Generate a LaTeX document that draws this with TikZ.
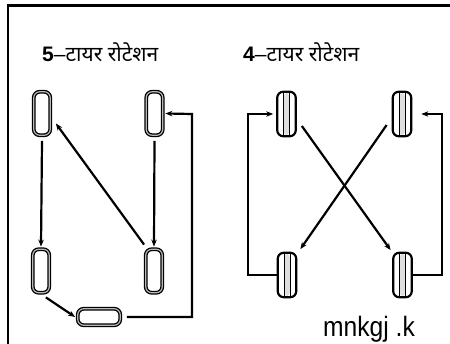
\documentclass[tikz,border=0pt]{standalone}
\usepackage{fontspec}
\setmainfont{Liberation Sans}
\newfontfamily\hindi[Script=Devanagari]{Noto Sans}
\usetikzlibrary{arrows.meta}

\begin{document}
\begin{tikzpicture}[x=1pt, y=-1pt, >={Stealth[length=7pt, width=5.5pt]}]
    % --- Définition des styles ---
    \tikzset{
        cadre/.style={line width=2.2pt},
        titre/.style={anchor=base west, inner sep=0pt, font=\fontsize{21}{24}\selectfont},
        pneu/.style={draw, rounded corners=6pt, minimum width=16.5pt, minimum height=43.5pt,
            inner sep=0pt, line width=1.3pt, double=gray!55, double distance=1.2pt},
        pneu_h/.style={pneu, minimum width=42.5pt, minimum height=16.5pt},
        pneu_r/.style={draw, rounded corners=6pt, minimum width=18.5pt, minimum height=44.5pt,
            inner sep=0pt, line width=2.2pt,
            path picture={
                \fill[gray!25] ([xshift=-3pt]path picture bounding box.south)
                    rectangle ([xshift=3pt]path picture bounding box.north);
                \draw[line width=0.9pt] ([xshift=-3pt]path picture bounding box.south)
                    -- ([xshift=-3pt]path picture bounding box.north);
                \draw[line width=0.9pt] ([xshift=3pt]path picture bounding box.south)
                    -- ([xshift=3pt]path picture bounding box.north);
            }},
        fleche/.style={->, line width=2.2pt},
        liaison/.style={line width=2.2pt}
    }

    \useasboundingbox (0,0) rectangle (450,344);

    % Cadre (bord haut et bord gauche)
    \draw[cadre] (450,5.5) -- (8,5.5) -- (8,344);

    % =====================================================================
    % BLOC GAUCHE : ROTATION A 5 PNEUS
    % =====================================================================
    \begin{scope}
        % Titre
        \node[titre] (titre5) at (42,62) {\textbf{5}–{\hindi टायर रोटेशन}};

        % Pneus
        \node[pneu] (avG5) at (42,113.5) {};
        \node[pneu] (avD5) at (154.5,113.5) {};
        \node[pneu] (arG5) at (41,271) {};
        \node[pneu] (arD5) at (154,271) {};
        \node[pneu_h] (sec5) at (99,317) {};
        \coordinate (coin5) at (192,114);

        % Fleches
        \draw[fleche] ([yshift=-5pt]avG5.south) -- ([yshift=2pt]arG5.north);
        \draw[fleche] ([yshift=-5pt]avD5.south) -- ([yshift=2pt]arD5.north);
        \draw[fleche] ([shift={(-1,-4)}]arD5.north west) -- ([shift={(5,10)}]avG5.east);
        \draw[fleche] ([shift={(-4,4)}]arG5.south east) -- ([xshift=-2pt]sec5.west);
        \draw[fleche] ([xshift=6pt]sec5.east) -| (coin5) -- ([xshift=2pt]avD5.east);
    \end{scope}

    % =====================================================================
    % BLOC DROIT : ROTATION A 4 PNEUS
    % =====================================================================
    \begin{scope}
        % Titre
        \node[titre] (titre4) at (243,62) {\textbf{4}–{\hindi टायर रोटेशन}};

        % Pneus
        \node[pneu_r] (avG4) at (286.5,114) {};
        \node[pneu_r] (avD4) at (402,114) {};
        \node[pneu_r] (arG4) at (287,275) {};
        \node[pneu_r] (arD4) at (402.5,275) {};
        \coordinate (coinG4) at (248,114);
        \coordinate (coinD4) at (442,114);

        % Fleches laterales
        \draw[fleche] (arG4.west) -| (coinG4) -- ([xshift=-3pt]avG4.west);
        \draw[fleche] (arD4.east) -| (coinD4) -- ([xshift=9pt]avD4.east);

        % Fleches croisees
        \draw[fleche] ([shift={(5,12)}]avG4.east) -- ([shift={(-1.5,-1.5)}]arD4.north west);
        \draw[fleche] ([shift={(-5,11)}]avD4.west) -- ([shift={(3,-2.5)}]arG4.north east);

        % Legende
        \node[anchor=base west, inner sep=0pt, font=\fontsize{28}{30}\selectfont] (legende) at (323,337)
            {\scalebox{0.88}[1]{mnkgj .k}};
    \end{scope}
\end{tikzpicture}
\end{document}
